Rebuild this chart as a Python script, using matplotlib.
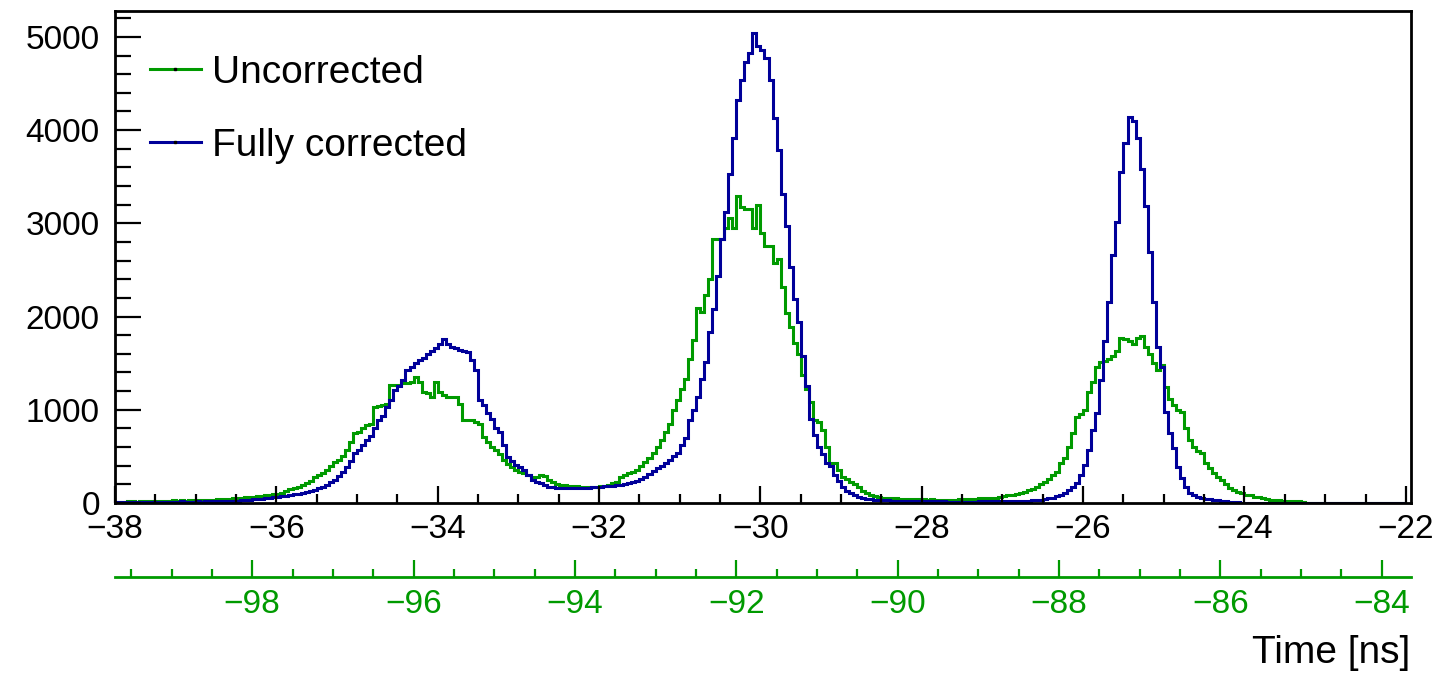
import matplotlib.pyplot as plt
import numpy as np
from matplotlib.lines import Line2D
from matplotlib.ticker import MultipleLocator, FixedLocator

plt.rcParams['font.family'] = ['Liberation Sans', 'DejaVu Sans']

# histogram binning: 0.05 ns bins from -38 to -22 ns
bin_lo, bin_hi, n_bins = -38.0, -22.0, 320
# the uncorrected time scale is shifted with respect to the corrected one
time_offset = -61.7
sec_major = [-98, -96, -94, -92, -90, -88, -86, -84]

# counts per bin, one row per ns
uncorrected = [
    12, 15, 14, 16, 18, 15, 20, 18, 22, 19, 24, 21, 25, 23, 27, 24, 28, 26, 30, 28,
    32, 30, 34, 36, 33, 38, 40, 42, 45, 50, 55, 58, 60, 63, 66, 70, 75, 80, 86, 92,
    100, 110, 125, 145, 158, 175, 193, 210, 240, 282, 300, 322, 354, 400, 443, 460, 500, 567, 650, 749,
    760, 800, 834, 850, 1030, 1040, 1050, 1059, 1261, 1261, 1270, 1283, 1290, 1300, 1350, 1300, 1190, 1180, 1137, 1297,
    1190, 1160, 1137, 1137, 1137, 1065, 888, 888, 888, 870, 852, 710, 650, 603, 567, 520, 460, 420, 389, 354,
    330, 318, 300, 282, 282, 300, 290, 247, 225, 200, 193, 190, 185, 180, 178, 176, 176, 175, 176, 176,
    178, 185, 195, 211, 230, 282, 300, 320, 336, 350, 400, 443, 480, 532, 600, 674, 760, 852, 995, 1100,
    1226, 1333, 1546, 1747, 2087, 2051, 2230, 2398, 2827, 2827, 2830, 2951, 3055, 2951, 3291, 3176, 3150, 3150, 2951, 3195,
    2898, 2755, 2755, 2570, 2613, 2319, 2034, 1890, 1720, 1600, 1368, 1226, 1084, 890, 870, 781, 603, 428, 428, 354,
    280, 260, 230, 200, 170, 130, 107, 90, 75, 64, 58, 52, 50, 48, 45, 44, 42, 40, 40, 38,
    38, 36, 37, 35, 36, 34, 35, 36, 35, 37, 38, 40, 42, 45, 48, 50, 52, 55, 58, 62,
    70, 80, 90, 100, 110, 120, 135, 150, 171, 200, 229, 260, 300, 330, 430, 480, 600, 746, 923, 950,
    995, 1190, 1300, 1457, 1510, 1520, 1546, 1580, 1635, 1770, 1760, 1742, 1706, 1770, 1795, 1670, 1600, 1500, 1422, 1475,
    1244, 1119, 1050, 995, 977, 800, 674, 603, 560, 535, 425, 380, 318, 280, 247, 200, 158, 135, 115, 105,
    90, 80, 69, 60, 50, 42, 33, 30, 27, 24, 22, 20, 18, 16, 12, 0, 0, 0, 0, 0,
    0, 0, 0, 0, 0, 0, 0, 0, 0, 0, 0, 0, 0, 0, 0, 0, 0, 0, 0, 0,
]

fully_corrected = [
    8, 10, 9, 12, 11, 10, 13, 12, 11, 14, 12, 13, 15, 12, 14, 13, 16, 14, 15, 13,
    16, 15, 18, 17, 16, 19, 18, 20, 22, 24, 26, 28, 32, 35, 38, 42, 46, 50, 55, 62,
    68, 72, 78, 85, 92, 100, 108, 118, 128, 140, 160, 176, 195, 220, 247, 290, 336, 389, 450, 535,
    567, 620, 674, 720, 800, 888, 930, 1030, 1100, 1208, 1250, 1320, 1422, 1460, 1500, 1529, 1560, 1600, 1635, 1660,
    1700, 1763, 1700, 1670, 1660, 1640, 1630, 1617, 1530, 1422, 1101, 1050, 962, 900, 800, 763, 620, 496, 450, 410,
    389, 350, 300, 247, 230, 210, 190, 176, 170, 165, 160, 155, 155, 158, 160, 160, 162, 165, 168, 170,
    176, 178, 180, 185, 190, 195, 205, 215, 229, 240, 260, 280, 310, 340, 370, 400, 430, 465, 500, 535,
    620, 700, 890, 1000, 1140, 1335, 1510, 1830, 2080, 2440, 2830, 3120, 3525, 3920, 4326, 4540, 4735, 4825, 5040, 4900,
    4860, 4770, 4540, 4135, 3790, 3310, 2970, 2530, 2190, 1940, 1580, 1260, 900, 730, 600, 530, 430, 400, 300, 240,
    176, 130, 105, 85, 65, 55, 45, 40, 36, 33, 30, 28, 26, 24, 22, 21, 20, 20, 19, 19,
    18, 18, 17, 17, 16, 16, 15, 15, 15, 14, 14, 15, 15, 15, 16, 16, 17, 17, 18, 18,
    19, 20, 21, 22, 23, 24, 25, 27, 30, 33, 40, 48, 58, 70, 87, 110, 140, 170, 211, 300,
    407, 567, 781, 962, 1315, 1742, 2151, 2658, 3016, 3552, 3862, 4141, 4098, 3920, 3588, 3184, 2694, 2151, 1671, 1457,
    977, 746, 585, 389, 265, 176, 110, 87, 65, 51, 45, 40, 33, 28, 22, 18, 12, 8, 5, 3,
    2, 2, 1, 1, 0, 0, 0, 0, 0, 0, 0, 0, 0, 0, 0, 0, 0, 0, 0, 0,
    0, 0, 0, 0, 0, 0, 0, 0, 0, 0, 0, 0, 0, 0, 0, 0, 0, 0, 0, 0,
]

labels = ['Uncorrected', 'Fully corrected']
green = '#009a00'
blue = '#000099'

edges = np.linspace(bin_lo, bin_hi, n_bins + 1)

fig = plt.figure(figsize=(14.38, 6.76), dpi=100)
ax = fig.add_axes([0.080, 0.256, 0.901, 0.728])

ax.stairs(uncorrected, edges, color=green, lw=2.2)
ax.stairs(fully_corrected, edges, color=blue, lw=2.2)

ax.set_xlim(-38.0, -21.94)
ax.set_ylim(0, 5280)

for s in ax.spines.values():
    s.set_linewidth(2.0)

ax.xaxis.set_major_locator(MultipleLocator(2))
ax.xaxis.set_minor_locator(MultipleLocator(0.5))
ax.yaxis.set_major_locator(MultipleLocator(1000))
ax.yaxis.set_minor_locator(MultipleLocator(200))
ax.tick_params(axis='x', which='both', direction='in', top=False, labelsize=24, pad=8, width=1.6)
ax.tick_params(axis='x', which='major', length=12.5)
ax.tick_params(axis='x', which='minor', length=6.5)
ax.tick_params(axis='y', which='both', direction='in', right=False, labelsize=24, pad=11, width=1.6)
ax.tick_params(axis='y', which='major', length=19)
ax.tick_params(axis='y', which='minor', length=11.5)

# second time axis for the uncorrected histogram
sec = ax.secondary_xaxis(-0.150, functions=(lambda t: t + time_offset, lambda t: t - time_offset))
sec.spines['bottom'].set_color(green)
sec.spines['bottom'].set_linewidth(2.0)
sec.xaxis.set_major_locator(FixedLocator(sec_major))
sec.xaxis.set_minor_locator(FixedLocator(np.arange(-99.5, -83.6, 0.5)))
sec.tick_params(axis='x', which='both', direction='in', colors=green, labelcolor=green,
                labelsize=24, pad=9, width=1.6)
sec.tick_params(axis='x', which='major', length=12)
sec.tick_params(axis='x', which='minor', length=6)

handles = [Line2D([], [], color=c, lw=2.2, marker='s', ms=2, mfc='k', mec='k')
           for c in (green, blue)]
ax.legend(handles, labels, loc='upper left', bbox_to_anchor=(0.027, 0.911), frameon=False,
          fontsize=28, handlelength=1.3, handletextpad=0.3, labelspacing=0.96,
          borderpad=0, borderaxespad=0, numpoints=1)

fig.text(1410 / 1438, 1 - 653 / 676, 'Time [ns]', fontsize=28, ha='right', va='center')

plt.savefig('out.png', dpi=100)
